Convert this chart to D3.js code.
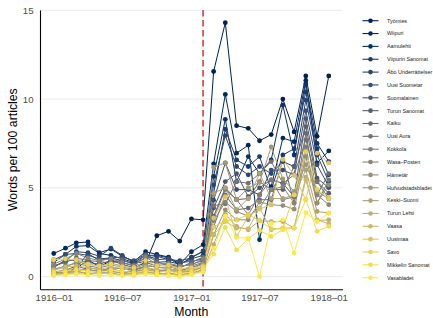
<!DOCTYPE html>
<meta charset="utf-8">

<!-- Load d3.js -->
<script src="https://cdn.jsdelivr.net/npm/d3@7"></script>

<style>
  body { margin: 0; background: #fff; }
  svg { font-family: "Liberation Sans", Arial, sans-serif; }
  .grid line { stroke: #ebebeb; stroke-width: 1; }
  .axis path { stroke: #000; stroke-width: 1.1; }
  .axis text { fill: #4d4d4d; font-size: 9.6px; }
</style>

<div id="chart"></div>

<script>
// months on the x axis
const months = ["1916-01","1916-02","1916-03","1916-04","1916-05","1916-06","1916-07",
  "1916-08","1916-09","1916-10","1916-11","1916-12","1917-01","1917-02","1917-03",
  "1917-04","1917-05","1917-06","1917-07","1917-08","1917-09","1917-10","1917-11",
  "1917-12","1918-01"];
const xTicks = ["1916-01","1916-07","1917-01","1917-07","1918-01"];
const yTicks = [0, 5, 10, 15];
const breakMonth = "1917-02";

const papers = ["Työmies","Wiipuri","Aamulehti","Viipurin Sanomat","Åbo Underrättelser",
  "Uusi Suometar","Suomalainen","Turun Sanomat","Kaiku","Uusi Aura","Kokkola",
  "Wasa–Posten","Hämetär","Hufvudstadsbladet","Keski–Suomi","Turun Lehti","Vaasa",
  "Uusimaa","Savo","Mikkelin Sanomat","Vasabladet"];

// words per 100 articles, one array per paper
const tyomies     = [0.3,0.2,0.45,0.95,0.55,0.9,0.8,0.6,0.75,2.3,2.55,2.0,3.25,3.2, 11.55,14.3,8.5,8.35,7.65,8.0,10.0,8.15,11.3,7.9,11.3];
const wiipuri     = [1.3,1.6,1.9,1.95,1.35,1.55,1.15,0.85,1.4,1.25,1.1,0.7,1.4,1.8, 6.35,10.26,6.95,7.4,2.08,5.07,7.8,7.6,11.05,6.4,7.08];
const aamulehti   = [0.8,1.25,1.7,1.75,1.3,1.2,1.0,0.8,1.2,1.2,1.05,0.65,1.1,1.4, 5.64,8.86,5.35,6.76,5.8,6.57,9.66,6.85,10.85,7.5,6.48];
const viipurinS   = [0.25,0.2,0.5,1.3,0.9,1.05,0.9,0.75,0.85,0.8,0.85,0.7,1.0,1.2, 4.7,8.3,6.57,6.2,6.76,4.9,6.85,7.2,10.4,7.2,5.73];
const aboUnd      = [0.6,0.85,1.4,1.35,1.15,1.6,1.2,0.8,1.0,1.15,0.95,0.9,1.05,1.45, 5.17,7.94,6.2,5.73,6.2,5.8,6.48,6.2,9.94,6.85,5.35];
const uusiSuom    = [0.95,1.25,1.3,1.2,1.0,1.05,1.1,0.9,1.25,0.95,1.0,0.8,0.85,1.0, 4.3,6.4,4.9,4.9,4.6,6.0,6.0,5.73,9.34,6.3,5.07];
const suomalainen = [0.5,0.95,0.9,0.8,0.7,0.9,0.7,0.5,0.8,0.6,0.7,0.55,0.7,0.9, 3.86,5.35,5.8,4.5,5.0,5.45,5.26,4.5,8.9,5.55,5.0];
const turunSan    = [0.2,0.35,0.6,0.4,0.3,0.5,0.45,0.35,0.55,0.3,0.4,0.35,0.5,0.75, 3.4,5.0,4.33,4.4,5.35,4.9,4.9,6.2,8.45,5.35,4.7];
const kaiku       = [0.6,0.8,1.05,0.9,0.85,0.75,0.95,0.65,1.2,0.85,0.6,0.5,0.8,1.1, 2.8,4.6,3.76,3.86,4.33,4.33,6.57,4.14,8.07,4.6,5.8];
const uusiAura    = [0.15,0.3,0.25,0.5,0.4,0.3,0.2,0.3,0.4,0.25,0.35,0.2,0.3,0.55, 4.0,4.1,5.35,5.26,5.8,6.48,5.26,5.73,7.7,5.35,4.4];
const kokkola     = [0.4,0.6,0.75,0.6,0.5,0.65,0.55,0.4,0.6,0.55,0.45,0.3,0.6,0.8, 3.3,4.9,4.33,3.48,4.6,5.45,4.33,4.5,7.3,4.14,5.45];
const wasaPosten  = [0.7,1.0,1.3,1.05,0.9,1.0,0.8,0.6,1.1,0.7,0.75,0.6,0.65,1.0, 3.15,4.2,3.67,3.4,3.86,4.9,5.07,4.14,7.1,4.6,4.05];
const hametar     = [0.1,0.2,0.3,0.15,0.25,0.2,0.1,0.2,0.3,0.15,0.2,0.1,0.2,0.4, 2.36,3.76,3.2,3.2,4.2,4.05,4.0,3.8,6.76,4.14,5.17];
const hufvudstad  = [0.45,0.5,0.85,0.7,0.6,0.75,0.6,0.45,0.7,0.5,0.55,0.4,0.45,0.7, 6.16,6.4,4.33,5.0,5.3,7.3,5.5,4.8,6.3,4.8,4.38];
const keskiSuomi  = [0.25,0.4,0.45,0.35,0.3,0.45,0.3,0.25,0.4,0.35,0.3,0.25,0.35,0.5, 4.7,5.0,3.76,4.4,5.8,4.4,4.4,4.6,6.0,3.67,3.58];
const turunLehti  = [0.15,0.25,0.3,0.2,0.15,0.3,0.2,0.15,0.25,0.2,0.15,0.1,0.2,0.35, 1.8,3.5,2.83,2.64,3.15,3.1,3.1,2.73,5.6,3.15,3.2];
const vaasa       = [0.35,0.55,0.6,0.5,0.4,0.55,0.45,0.3,0.5,0.4,0.45,0.3,0.4,0.6, 2.36,3.1,2.73,2.7,3.86,2.64,2.73,2.75,5.45,3.2,2.98];
const uusimaa     = [0.1,0.15,0.2,0.1,0.2,0.15,0.1,0.1,0.2,0.1,0.15,0.05,0.15,0.3, 3.3,4.5,2.26,3.4,3.8,4.05,6.6,5.7,4.33,6.95,6.4];
const savo        = [0.95,1.0,0.95,0.7,0.6,0.7,0.55,0.5,0.9,0.6,0.65,0.45,0.5,0.55, 2.8,3.15,3.2,3.5,3.15,2.7,2.73,4.6,7.04,4.9,4.4];
const mikkelin    = [0.25,0.3,0.4,0.3,0.25,0.35,0.3,0.2,0.35,0.25,0.3,0.2,0.25,0.45, 1.27,2.77,1.5,2.13,2.6,2.26,2.64,2.75,4.33,2.55,2.83];
const vasabladet  = [0.05,0.1,0.15,0.1,0.05,0.1,0.05,0.05,0.15,0.1,0.05,0.0,0.1,0.25, 1.6,3.4,2.2,2.17,0.0,3.0,3.2,1.33,3.6,3.1,3.58];

const allValues = [tyomies, wiipuri, aamulehti, viipurinS, aboUnd, uusiSuom, suomalainen,
  turunSan, kaiku, uusiAura, kokkola, wasaPosten, hametar, hufvudstad, keskiSuomi,
  turunLehti, vaasa, uusimaa, savo, mikkelin, vasabladet];

const parseMonth = d3.utcParse("%Y-%m");
const series = papers.map((name, i) => ({
  name: name,
  values: months.map((m, j) => ({ date: parseMonth(m), value: allValues[i][j] }))
}));

const width = 433, height = 318;
const panel = { left: 40, right: 342.5, top: 10, bottom: 289.3 };

const svg = d3.select("#chart")
  .append("svg")
    .attr("width", width)
    .attr("height", height);

// scales, with ggplot-style 5% padding
const first = parseMonth(months[0]), last = parseMonth(months[months.length - 1]);
const span = last - first;
const x = d3.scaleUtc()
  .domain([new Date(+first - span * 0.05), new Date(+last + span * 0.05)])
  .range([panel.left, panel.right]);

const yMax = d3.max(allValues, a => d3.max(a));
const y = d3.scaleLinear()
  .domain([-yMax * 0.05, yMax * 1.05])
  .range([panel.bottom, panel.top]);

const color = d3.scaleOrdinal()
  .domain(papers)
  .range(d3.quantize(d3.interpolateCividis, papers.length));

// horizontal grid
svg.append("g")
  .attr("class", "grid")
  .selectAll("line")
  .data(yTicks)
  .join("line")
    .attr("x1", panel.left)
    .attr("x2", panel.right)
    .attr("y1", d => y(d))
    .attr("y2", d => y(d));

// red dashed marker
svg.append("line")
  .attr("x1", x(parseMonth(breakMonth)))
  .attr("x2", x(parseMonth(breakMonth)))
  .attr("y1", panel.top)
  .attr("y2", panel.bottom)
  .attr("stroke", "#e05555")
  .attr("stroke-width", 1.9)
  .attr("stroke-dasharray", "6.5,3.5");

// lines first, then points on top
const line = d3.line()
  .x(d => x(d.date))
  .y(d => y(d.value));

svg.append("g")
  .selectAll("path")
  .data(series)
  .join("path")
    .attr("fill", "none")
    .attr("stroke", d => color(d.name))
    .attr("stroke-width", 1)
    .attr("d", d => line(d.values));

svg.append("g")
  .selectAll("g")
  .data(series)
  .join("g")
    .attr("fill", d => color(d.name))
  .selectAll("circle")
  .data(d => d.values)
  .join("circle")
    .attr("cx", d => x(d.date))
    .attr("cy", d => y(d.value))
    .attr("r", 2.4);

// axes
svg.append("g")
  .attr("class", "axis")
  .attr("transform", `translate(0,${panel.bottom})`)
  .call(d3.axisBottom(x)
    .tickValues(xTicks.map(parseMonth))
    .tickFormat(d3.utcFormat("%Y–%m"))
    .tickSize(0)
    .tickPadding(5));

svg.append("g")
  .attr("class", "axis")
  .attr("transform", `translate(${panel.left},0)`)
  .call(d3.axisLeft(y)
    .tickValues(yTicks)
    .tickSize(0)
    .tickPadding(6.5));

svg.selectAll(".axis .tick line").remove();

// axis titles
svg.append("text")
  .attr("x", (panel.left + panel.right) / 2)
  .attr("y", 315.5)
  .attr("text-anchor", "middle")
  .attr("font-size", "12.3px")
  .attr("fill", "#000")
  .text("Month");

svg.append("text")
  .attr("transform", `translate(17,${(panel.top + panel.bottom) / 2}) rotate(-90)`)
  .attr("text-anchor", "middle")
  .attr("font-size", "12.3px")
  .attr("fill", "#000")
  .text("Words per 100 articles");

// legend
const legend = svg.append("g")
  .selectAll("g")
  .data(papers)
  .join("g")
    .attr("transform", (d, i) => `translate(370.5,${20.7 + i * 12.85})`);

legend.append("line")
  .attr("x1", -8)
  .attr("x2", 8)
  .attr("stroke", d => color(d))
  .attr("stroke-width", 1.1);

legend.append("circle")
  .attr("r", 2.3)
  .attr("fill", d => color(d));

legend.append("text")
  .attr("x", 16.5)
  .attr("dy", "0.35em")
  .attr("font-size", "5.4px")
  .attr("fill", "#1a1a1a")
  .text(d => d);
</script>
